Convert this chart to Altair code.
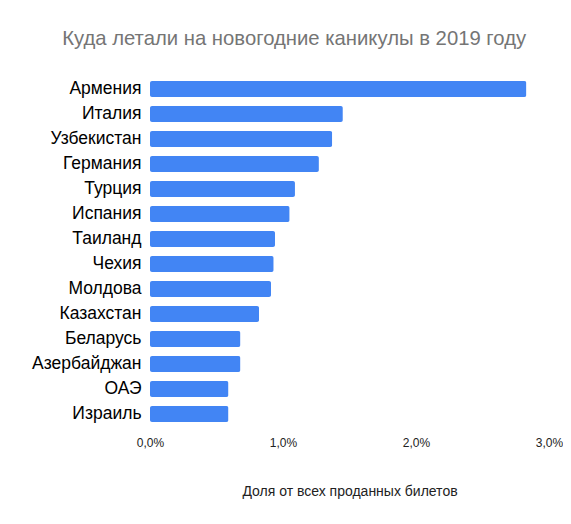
import pandas as pd
import altair as alt

countries = ["Армения", "Италия", "Узбекистан", "Германия", "Турция", "Испания",
             "Таиланд", "Чехия", "Молдова", "Казахстан", "Беларусь",
             "Азербайджан", "ОАЭ", "Израиль"]
shares = [0.0283, 0.0145, 0.0137, 0.0127, 0.0109, 0.0105, 0.0094, 0.0093,
          0.0091, 0.0082, 0.0068, 0.0068, 0.0059, 0.0059]
ticks = [0, 0.01, 0.02, 0.03]

df = pd.DataFrame({"country": countries, "share": shares})

chart = alt.Chart(df).mark_bar(color="#4285F4", cornerRadius=2).encode(
    x=alt.X("share:Q", title="Доля от всех проданных билетов",
            scale=alt.Scale(domain=[0, 0.03], nice=False),
            axis=alt.Axis(values=ticks, grid=False, domain=False, ticks=False,
                          labelFlush=False,
                          labelExpr="replace(format(datum.value, '.1%'), '.', ',')",
                          labelFontSize=12, labelColor="#222222", labelPadding=11,
                          titleFontSize=14, titleColor="#222222", titleFontWeight="normal",
                          titlePadding=36)),
    y=alt.Y("country:N", title=None, sort=countries,
            scale=alt.Scale(paddingInner=0.36, paddingOuter=0.18),
            axis=alt.Axis(domain=False, ticks=False, grid=False,
                          labelFontSize=17.5, labelColor="#000000", labelPadding=9)),
    tooltip=["country:N", "share:Q"]
).properties(
    title=alt.TitleParams("Куда летали на новогодние каникулы в 2019 году",
                          fontSize=20.3, color="#757575", fontWeight="normal",
                          anchor="middle", frame="bounds", offset=27, dx=-3),
    width=399,
    height=350,
    autosize=alt.AutoSizeParams(type="none"),
    padding={"left": 142, "top": 68.5, "right": 14, "bottom": 89.5}
).configure(
    font="Liberation Sans"
).configure_view(
    strokeWidth=0
)

chart.save("out.html", embed_options={"renderer": "svg", "actions": False})
